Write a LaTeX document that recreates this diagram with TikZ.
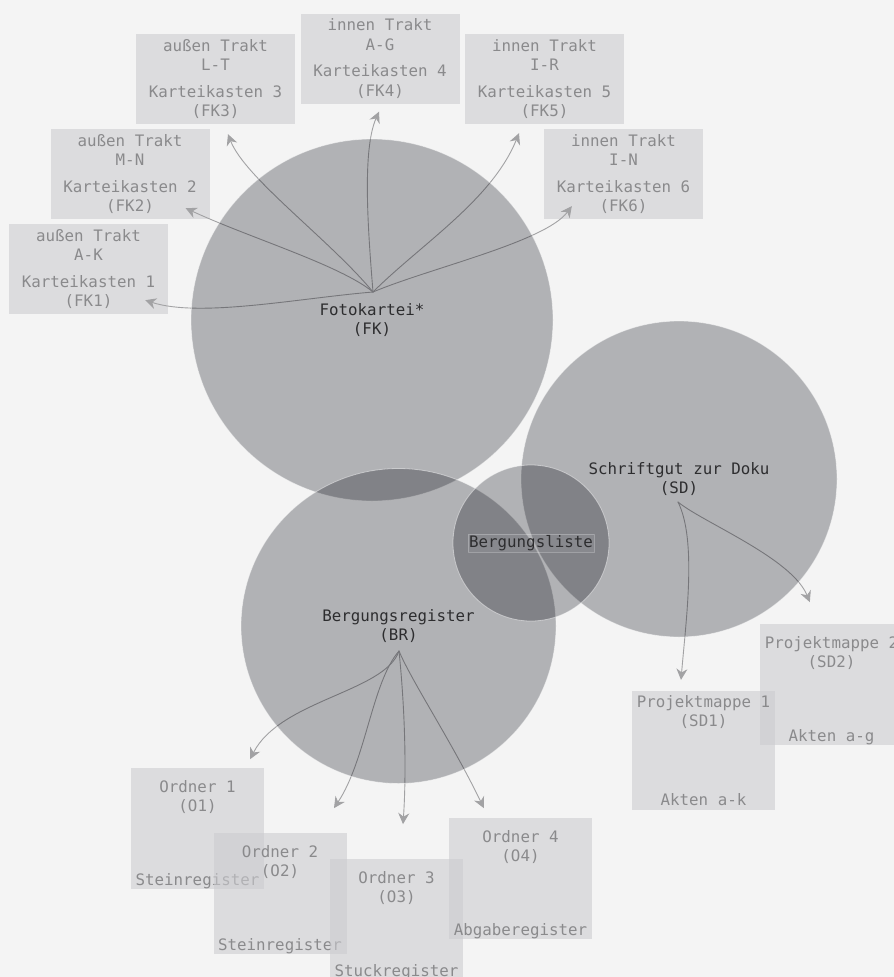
\documentclass[tikz,border=0pt]{standalone}
\usepackage{fontspec}
\setmonofont{DejaVu Sans Mono}
\usetikzlibrary{arrows.meta}
\definecolor{hinter}{RGB}{244,244,244}
\definecolor{tinte}{RGB}{0,2,12}
\definecolor{kastengrau}{RGB}{204,204,208}
\definecolor{kastentext}{RGB}{138,138,140}
\definecolor{kreistext}{RGB}{45,45,47}
\definecolor{pfeilgrau}{RGB}{162,162,164}
\newcommand{\hoch}{\rule{0pt}{24pt}}

\begin{document}
\begin{tikzpicture}[x=1pt, y=-1pt, line join=round, line cap=round,
	>={Stealth[length=11pt, width=11pt]},
	font=\ttfamily\fontsize{15.8}{19.5}\selectfont,
	kasten/.style={rectangle, fill=kastengrau, fill opacity=0.6, text opacity=1, text=kastentext, align=center, inner sep=0pt, minimum width=159pt, minimum height=90pt},
	ordner/.style={kasten, minimum width=133pt, minimum height=119pt},
	mappe/.style={ordner, minimum width=143pt},
	kreis/.style={circle, fill=tinte, fill opacity=0.27, draw=white, draw opacity=0.45, line width=0.8pt, text opacity=1, text=kreistext, align=center, inner sep=0pt},
	marke/.style={rectangle, draw=white, draw opacity=0.25, fill=white, fill opacity=0.06, text opacity=1, text=kreistext, inner sep=1pt},
	pfeil/.style={->, draw=pfeilgrau, line width=0.9pt}]
	\useasboundingbox (0,0) rectangle (894,977);
	\fill[hinter] (0,0) rectangle (894,977);
	% Karteikaesten
	\node[kasten] (FK1) at (88.5,269) {außen Trakt\\A-K\\[7pt]Karteikasten 1\\(FK1)};
	\node[kasten] (FK2) at (130,174) {außen Trakt\\M-N\\[7pt]Karteikasten 2\\(FK2)};
	\node[kasten] (FK3) at (215.5,79) {außen Trakt\\L-T\\[7pt]Karteikasten 3\\(FK3)};
	\node[kasten] (FK4) at (380,58.5) {innen Trakt\\A-G\\[7pt]Karteikasten 4\\(FK4)};
	\node[kasten] (FK5) at (544.5,79) {innen Trakt\\I-R\\[7pt]Karteikasten 5\\(FK5)};
	\node[kasten] (FK6) at (623.5,174) {innen Trakt\\I-N\\[7pt]Karteikasten 6\\(FK6)};
	% Ordner und Mappen
	\node[ordner] (O1) at (197.5,828.5) {\hoch Ordner 1\\(O1)\\[54pt]Steinregister};
	\node[ordner] (O2) at (280,893.5) {\hoch Ordner 2\\(O2)\\[54pt]Steinregister};
	\node[ordner] (O3) at (396.5,919.5) {\hoch Ordner 3\\(O3)\\[54pt]Stuckregister};
	\node[ordner, minimum width=143pt] (O4) at (520.5,878.5) {\hoch Ordner 4\\(O4)\\[54pt]Abgaberegister};
	\node[mappe] (SD2) at (831.5,684.5) {\hoch Projektmappe 2\\(SD2)\\[54pt]Akten a-g};
	\node[mappe] (SD1) at (703.5,750.5) {Projektmappe 1\\(SD1)\\[59pt]Akten a-k};
	% Verzweigungen
	\coordinate (FKmitte) at (373,292);
	\coordinate (BRmitte) at (399,651);
	\coordinate (SDmitte) at (678,502);
	\draw[pfeil] (FKmitte) .. controls (300,298) and (200,318) .. ([shift={(-23,-14)}]FK1.south east);
	\draw[pfeil] (FKmitte) .. controls (340,265) and (250,238) .. ([shift={(-24,-11)}]FK2.south east);
	\draw[pfeil] (FKmitte) .. controls (330,240) and (245,178) .. ([shift={(12.5,10)}]FK3.south);
	\draw[pfeil] (FKmitte) .. controls (368,230) and (362,150) .. ([shift={(-1,8)}]FK4.south);
	\draw[pfeil] (FKmitte) .. controls (420,245) and (492,200) .. ([shift={(-25.5,9)}]FK5.south);
	\draw[pfeil] (FKmitte) .. controls (430,268) and (545,242) .. ([shift={(28,-13)}]FK6.south west);
	\draw[pfeil] (BRmitte) .. controls (385,692) and (280,700) .. ([shift={(-14,-9)}]O1.north east);
	\draw[pfeil] (BRmitte) .. controls (372,682) and (366,760) .. ([shift={(54,-25)}]O2.north);
	\draw[pfeil] (BRmitte) .. controls (406,720) and (406,780) .. ([shift={(6.5,-35)}]O3.north);
	\draw[pfeil] (BRmitte) .. controls (412,682) and (452,742) .. ([shift={(35,-10)}]O4.north west);
	\draw[pfeil] (SDmitte) .. controls (697,540) and (686,620) .. ([shift={(-22.5,-11)}]SD1.north);
	\draw[pfeil] (SDmitte) .. controls (702,522) and (792,558) .. ([shift={(50,-22)}]SD2.north west);
	% Kreise
	\node[kreis, minimum size=362pt] (FK) at (372,320) {Fotokartei*\\(FK)};
	\node[kreis, minimum size=315pt] (BR) at (398.5,626) {Bergungsregister\\(BR)};
	\node[kreis, minimum size=316pt] (SD) at (679,479) {Schriftgut zur Doku\\(SD)};
	\node[kreis, minimum size=156pt] (BL) at (531,543) {};
	\node[marke] (BLtext) at (BL) {Bergungsliste};
\end{tikzpicture}
\end{document}
